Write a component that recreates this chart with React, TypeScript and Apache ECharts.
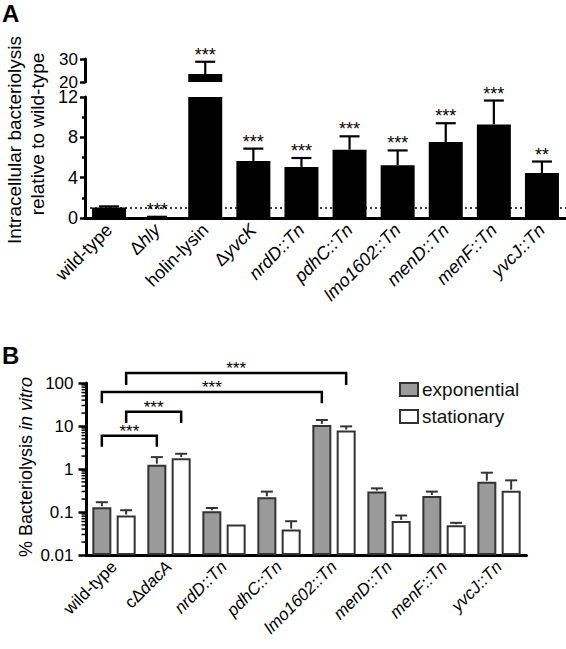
import React, { useEffect, useRef } from 'react';
import * as echarts from 'echarts';

// ---------- Panel A data ----------
const categoriesA = ['wild-type', 'Δhly', 'holin-lysin', 'ΔyvcK', 'nrdD::Tn', 'pdhC::Tn', 'lmo1602::Tn', 'menD::Tn', 'menF::Tn', 'yvcJ::Tn'];
const meanA = [1.05, 0.08, 23.5, 5.66, 5.07, 6.78, 5.23, 7.53, 9.28, 4.47];
const errTopA = [1.15, 0.12, 28.8, 6.88, 5.95, 8.1, 6.7, 9.4, 11.65, 5.6];
const sigA = ['', '***', '***', '***', '***', '***', '***', '***', '***', '**'];
const refLineA = 1;
const ticksLowA = { min: 0, max: 12, interval: 4 };
const ticksUpA = { min: 20, max: 30, interval: 10 };

// ---------- Panel B data ----------
const categoriesB = ['wild-type', 'cΔdacA', 'nrdD::Tn', 'pdhC::Tn', 'lmo1602::Tn', 'menD::Tn', 'menF::Tn', 'yvcJ::Tn'];
const expB = [0.129, 1.26, 0.104, 0.22, 10.6, 0.298, 0.236, 0.507];
const expErrTopB = [0.169, 1.89, 0.124, 0.298, 13.8, 0.355, 0.298, 0.82];
const statB = [0.083, 1.79, 0.051, 0.039, 7.83, 0.062, 0.049, 0.314];
const statErrTopB = [0.11, 2.26, 0.051, 0.061, 9.8, 0.083, 0.056, 0.545];
const seriesNamesB = ['exponential', 'stationary'];
// significance brackets: [category, series] endpoints, bar height and leg end (data units)
const bracketsB = [
  { from: [0, 0], to: [1, 0], y: 5.9, leg: 3.3, label: '***' },
  { from: [0, 1], to: [1, 1], y: 21.5, leg: 11.7, label: '***' },
  { from: [0, 0], to: [4, 0], y: 62, leg: 34, label: '***' },
  { from: [0, 1], to: [4, 1], y: 171, leg: 90, label: '***' },
];
const logTicksB = [0.01, 0.1, 1, 10, 100];

const FONT = '"Liberation Sans", Arial, Helvetica, sans-serif';

function richLabel(v: string) {
  if (v === 'wild-type' || v === 'holin-lysin') return `{n|${v}}`;
  if (v.startsWith('cΔ')) return `{n|cΔ}{i|${v.slice(2)}}`;
  if (v.startsWith('Δ')) return `{n|Δ}{i|${v.slice(1)}}`;
  return `{i|${v}}`;
}

export default function App() {
  const ref = useRef<HTMLDivElement>(null);
  useEffect(() => {
    if (!ref.current) return;
    const chart = echarts.init(ref.current, undefined, { renderer: 'svg' });

    const lowItems = meanA.map((v, i) => ({ i, v, e: errTopA[i], s: sigA[i] })).filter((d) => d.v <= ticksLowA.max);
    const upItems = meanA.map((v, i) => ({ i, v, e: errTopA[i], s: sigA[i] })).filter((d) => d.v > ticksUpA.min);

    const makeErrA = (items: any[]) => (params: any, api: any) => {
      const d = items[params.dataIndex];
      const p0 = api.coord([d.i, d.v]);
      const p1 = api.coord([d.i, d.e]);
      const x = p0[0];
      const children: any[] = [
        { type: 'line', shape: { x1: x, y1: p0[1], x2: x, y2: p1[1] }, style: { stroke: '#000', lineWidth: 2.2 } },
        { type: 'line', shape: { x1: x - 10, y1: p1[1], x2: x + 10, y2: p1[1] }, style: { stroke: '#000', lineWidth: 2.2 } },
      ];
      if (d.s) {
        children.push({
          type: 'text', x, y: p1[1] - 7,
          style: { text: d.s, align: 'center', verticalAlign: 'middle', fontSize: 18, fontFamily: FONT, fill: '#000' },
        });
      }
      return { type: 'group', children };
    };

    const barW = 19;
    const gapB = 0.28;
    const offB = (barW * (1 + gapB)) / 2;

    const errItemsB: any[] = [];
    expB.forEach((v, i) => errItemsB.push({ i, v, e: expErrTopB[i], s: 0 }));
    statB.forEach((v, i) => errItemsB.push({ i, v, e: statErrTopB[i], s: 1 }));

    const minorB: number[] = [];
    for (let d = 0; d < logTicksB.length - 1; d++) {
      for (let k = 2; k <= 9; k++) minorB.push(logTicksB[d] * k);
    }

    const richA = {
      n: { fontSize: 18, fontFamily: FONT, color: '#000' },
      i: { fontSize: 18, fontFamily: FONT, fontStyle: 'italic', color: '#000' },
    };
    const richB = {
      n: { fontSize: 17, fontFamily: FONT, color: '#000' },
      i: { fontSize: 17, fontFamily: FONT, fontStyle: 'italic', color: '#000' },
    };

    const axisLine = { show: true, lineStyle: { color: '#000', width: 3 } };

    const option: any = {
      animation: false,
      backgroundColor: '#fff',
      textStyle: { fontFamily: FONT },
      legend: {
        data: seriesNamesB.map((n) => ({ name: n, itemStyle: { borderColor: '#333', borderWidth: 2 } })),
        orient: 'vertical',
        left: 394,
        top: 375,
        itemWidth: 18,
        itemHeight: 13,
        itemGap: 8,
        icon: 'rect',
        selectedMode: false,
        textStyle: { fontSize: 19, color: '#111', fontFamily: FONT, padding: [0, 0, 0, -1] },
      },
      grid: [
        { left: 85, top: 97, width: 481, height: 121, outerBoundsMode: 'none' },
        { left: 85, top: 59, width: 481, height: 23, outerBoundsMode: 'none' },
        { left: 86.5, top: 383, width: 440, height: 172, outerBoundsMode: 'none' },
      ],
      xAxis: [
        {
          gridIndex: 0, type: 'category', data: categoriesA,
          axisLine,
          axisTick: { alignWithLabel: true, length: 6, lineStyle: { color: '#000', width: 2.5 } },
          axisLabel: { rotate: 45, margin: 9, interval: 0, formatter: (v: string) => richLabel(v), rich: richA },
        },
        { gridIndex: 1, type: 'category', data: categoriesA, show: false },
        {
          gridIndex: 2, type: 'category', data: categoriesB,
          axisLine,
          axisTick: { alignWithLabel: true, length: 6, lineStyle: { color: '#000', width: 2.5 } },
          axisLabel: { rotate: 45, margin: 9, interval: 0, formatter: (v: string) => richLabel(v), rich: richB },
        },
      ],
      yAxis: [
        {
          gridIndex: 0, type: 'value', min: ticksLowA.min, max: ticksLowA.max, interval: ticksLowA.interval,
          axisLine,
          axisTick: { show: true, length: 5, lineStyle: { color: '#000', width: 2.5 } },
          minorTick: { show: true, splitNumber: 2, length: 3, lineStyle: { color: '#000', width: 2.5 } },
          splitLine: { show: false },
          axisLabel: { fontSize: 18, color: '#000', margin: 7 },
        },
        {
          gridIndex: 1, type: 'value', min: ticksUpA.min, max: ticksUpA.max, interval: ticksUpA.interval,
          axisLine,
          axisTick: { show: true, length: 5, lineStyle: { color: '#000', width: 2.5 } },
          splitLine: { show: false },
          axisLabel: { fontSize: 17, color: '#000', margin: 7 },
        },
        {
          gridIndex: 2, type: 'log', logBase: 10, min: logTicksB[0], max: logTicksB[logTicksB.length - 1],
          startValue: logTicksB[0],
          axisLine,
          axisTick: { show: true, length: 8, lineStyle: { color: '#000', width: 2.5 } },
          splitLine: { show: false },
          axisLabel: {
            fontSize: 17, color: '#000', margin: 13,
            formatter: (v: number) => String(parseFloat(Number(v).toPrecision(2))),
          },
        },
      ],
      graphic: [
        { type: 'text', x: 2, y: 13, style: { text: 'A', fontSize: 24, fontWeight: 'bold', fontFamily: FONT, fill: '#000', verticalAlign: 'middle' } },
        { type: 'text', x: 2, y: 355, style: { text: 'B', fontSize: 24, fontWeight: 'bold', fontFamily: FONT, fill: '#000', verticalAlign: 'middle' } },
        {
          type: 'text', x: 14, y: 140, rotation: Math.PI / 2,
          style: { text: 'Intracellular bacteriolysis', align: 'center', verticalAlign: 'middle', fontSize: 19, fontFamily: FONT, fill: '#000' },
        },
        {
          type: 'text', x: 37, y: 134, rotation: Math.PI / 2,
          style: { text: 'relative to wild-type', align: 'center', verticalAlign: 'middle', fontSize: 19, fontFamily: FONT, fill: '#000' },
        },
        {
          type: 'text', x: 26, y: 467, rotation: Math.PI / 2,
          style: {
            text: '{n|% Bacteriolysis }{i|in vitro}', align: 'center', verticalAlign: 'middle',
            rich: {
              n: { fontSize: 18, fontFamily: FONT, fill: '#000' },
              i: { fontSize: 18, fontFamily: FONT, fontStyle: 'italic', fill: '#000' },
            },
          },
        },
      ],
      series: [
        {
          type: 'bar', xAxisIndex: 0, yAxisIndex: 0, data: meanA, barWidth: 34,
          itemStyle: { color: '#000' },
          markLine: {
            silent: true, symbol: ['none', 'none'], label: { show: false },
            lineStyle: { type: [2, 3], color: '#000', width: 1.6 },
            data: [{ yAxis: refLineA }],
          },
        },
        {
          type: 'bar', xAxisIndex: 1, yAxisIndex: 1, barWidth: 34,
          data: meanA.map((v) => (v > ticksUpA.min ? v : '-')),
          itemStyle: { color: '#000' },
        },
        {
          type: 'custom', xAxisIndex: 0, yAxisIndex: 0,
          data: lowItems.map((d) => [d.i, d.v, d.e]),
          renderItem: makeErrA(lowItems), z: 5,
        },
        {
          type: 'custom', xAxisIndex: 1, yAxisIndex: 1,
          data: upItems.map((d) => [d.i, d.v, d.e]),
          renderItem: makeErrA(upItems), z: 5,
        },
        {
          name: seriesNamesB[0], type: 'bar', xAxisIndex: 2, yAxisIndex: 2, data: expB,
          barWidth: barW, barGap: `${gapB * 100}%`,
          itemStyle: { color: '#9a9a9a', borderColor: '#333', borderWidth: 2 },
        },
        {
          name: seriesNamesB[1], type: 'bar', xAxisIndex: 2, yAxisIndex: 2, data: statB,
          barWidth: barW, barGap: `${gapB * 100}%`,
          itemStyle: { color: '#fff', borderColor: '#333', borderWidth: 2 },
        },
        {
          type: 'custom', xAxisIndex: 2, yAxisIndex: 2, z: 5,
          data: errItemsB.map((d) => [d.i, d.v, d.e]),
          renderItem: (params: any, api: any) => {
            const d = errItemsB[params.dataIndex];
            if (!(d.e > d.v)) return { type: 'group', children: [] };
            const p0 = api.coord([d.i, d.v]);
            const p1 = api.coord([d.i, d.e]);
            const x = p0[0] + (d.s === 0 ? -offB : offB);
            return {
              type: 'group',
              children: [
                { type: 'line', shape: { x1: x, y1: p0[1] - 1, x2: x, y2: p1[1] }, style: { stroke: '#333', lineWidth: 2 } },
                { type: 'line', shape: { x1: x - 6, y1: p1[1], x2: x + 6, y2: p1[1] }, style: { stroke: '#333', lineWidth: 2 } },
              ],
            };
          },
        },
        {
          type: 'custom', xAxisIndex: 2, yAxisIndex: 2, z: 6,
          data: bracketsB.map((b) => [b.from[0], b.y]),
          renderItem: (params: any, api: any) => {
            const b = bracketsB[params.dataIndex];
            const xl = api.coord([b.from[0], b.y])[0] + (b.from[1] === 0 ? -offB : offB);
            const xr = api.coord([b.to[0], b.y])[0] + (b.to[1] === 0 ? -offB : offB);
            const yl = api.coord([b.from[0], b.y])[1];
            const yg = api.coord([b.from[0], b.leg])[1];
            return {
              type: 'group',
              children: [
                { type: 'polyline', shape: { points: [[xl, yg], [xl, yl], [xr, yl], [xr, yg]] }, style: { stroke: '#000', lineWidth: 2.5, fill: 'none' } },
                { type: 'text', x: (xl + xr) / 2, y: yl - 4, style: { text: b.label, align: 'center', verticalAlign: 'middle', fontSize: 17, fontFamily: FONT, fill: '#000' } },
              ],
            };
          },
        },
        {
          type: 'custom', xAxisIndex: 2, yAxisIndex: 2, z: 6,
          data: minorB.map((v) => [0, v]),
          renderItem: (params: any, api: any) => {
            const y = api.coord([0, minorB[params.dataIndex]])[1];
            const x0 = params.coordSys.x;
            return { type: 'line', shape: { x1: x0 - 5, y1: y, x2: x0, y2: y }, style: { stroke: '#000', lineWidth: 1.5 } };
          },
        },
      ],
    };
    chart.setOption(option);
    return () => chart.dispose();
  }, []);
  return <div ref={ref} style={{ position: 'absolute', left: 0, top: 0, width: 566, height: 649 }} />;
}
